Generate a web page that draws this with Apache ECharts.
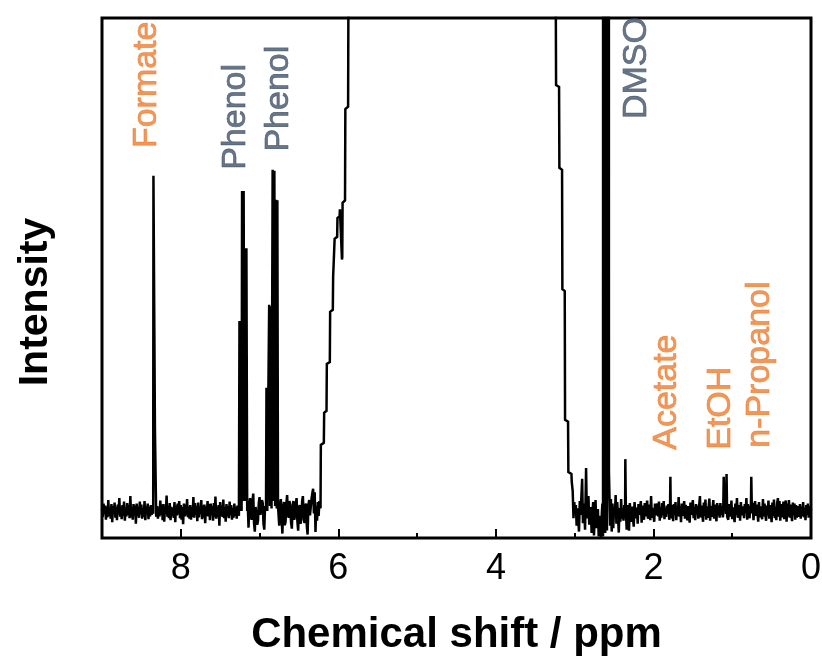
<!DOCTYPE html>
<html>
<head>
<meta charset="utf-8">
<script src="https://cdn.jsdelivr.net/npm/echarts@6/dist/echarts.min.js"></script>
<style>
  html, body { margin: 0; padding: 0; background: #fff; }
  #chart { width: 822px; height: 656px; }
</style>
</head>
<body>
<div id="chart"></div>
<script>
// 1H NMR spectrum, [chemical shift (ppm), intensity (a.u.)], ordered from high to low ppm.

// Baseline and aromatic region: formate singlet and the two phenol multiplets
const regionAromatic = [
  [9.00,0.4],[8.99,-1.2],[8.98,1.5],[8.97,-0.6],[8.96,1.1],[8.95,-1.8],[8.94,0.9],[8.93,-1.3],[8.92,2.2],[8.91,-1.0],
  [8.90,0.6],[8.89,-1.6],[8.88,1.4],[8.87,-2.3],[8.86,1.0],[8.85,-0.5],[8.84,1.7],[8.83,-1.4],[8.82,0.8],[8.81,-1.9],
  [8.80,1.3],[8.79,-0.7],[8.78,2.6],[8.77,-1.2],[8.76,0.9],[8.75,-1.7],[8.74,1.2],[8.73,-1.0],[8.72,1.9],[8.71,-2.0],
  [8.70,0.7],[8.69,-1.1],[8.68,1.6],[8.67,-0.8],[8.66,1.2],[8.65,-1.5],[8.64,3.0],[8.63,-1.3],[8.62,0.5],[8.61,-1.8],
  [8.60,1.4],[8.59,-0.9],[8.58,1.1],[8.57,-2.6],[8.56,1.5],[8.55,-1.0],[8.54,0.8],[8.53,-1.4],[8.52,1.9],[8.51,-0.7],
  [8.50,1.3],[8.49,-1.6],[8.48,0.6],[8.47,-1.2],[8.46,2.0],[8.45,-1.9],[8.44,1.0],[8.43,-0.6],[8.42,1.5],[8.41,-1.7],
  [8.40,0.9],[8.39,-1.1],[8.38,1.2],[8.37,-0.8],[8.36,1.2],
  [8.350,-0.6],[8.347,68.0],[8.328,16.6],[8.312,-1.2],
  [8.30,1.0],[8.29,-1.6],[8.28,0.7],[8.27,-1.1],[8.26,2.1],[8.25,-0.8],[8.24,1.3],[8.23,-1.9],[8.22,1.4],[8.21,-2.2],
  [8.20,0.9],[8.19,-0.6],[8.18,3.1],[8.17,-1.2],[8.16,1.0],[8.15,-1.5],[8.14,1.6],[8.13,-1.9],[8.12,0.8],[8.11,-1.0],
  [8.10,0.6],[8.09,-1.4],[8.08,1.8],[8.07,-2.3],[8.06,1.1],[8.05,-0.9],[8.04,1.5],[8.03,-0.7],[8.02,2.0],[8.01,-1.5],
  [8.00,1.2],[7.99,-1.8],[7.98,0.8],[7.97,-2.7],[7.96,1.5],[7.95,-1.1],[7.94,1.3],[7.93,-0.9],[7.92,2.4],[7.91,-1.3],
  [7.90,0.9],[7.89,-1.6],[7.88,1.2],[7.87,-1.8],[7.86,0.7],[7.85,-1.2],[7.84,2.8],[7.83,-1.4],[7.82,1.6],[7.81,-0.8],
  [7.80,1.0],[7.79,-2.1],[7.78,1.7],[7.77,-1.3],[7.76,0.6],[7.75,-0.6],[7.74,2.2],[7.73,-1.7],[7.72,1.1],[7.71,-1.4],
  [7.70,1.3],[7.69,-2.5],[7.68,0.9],[7.67,-1.0],[7.66,2.0],[7.65,-1.1],[7.64,1.4],[7.63,-1.9],[7.62,1.5],[7.61,-0.8],
  [7.60,1.0],[7.59,-2.0],[7.58,1.6],[7.57,-1.3],[7.56,2.9],[7.55,-1.6],[7.54,0.8],[7.53,-1.2],[7.52,1.2],[7.51,-3.0],
  [7.50,1.8],[7.49,-1.0],[7.48,1.1],[7.47,-1.2],[7.46,2.3],[7.45,-1.5],[7.44,0.7],[7.43,-2.2],[7.42,1.4],[7.41,-1.1],
  [7.40,1.0],[7.39,-1.5],[7.38,1.9],[7.37,-0.9],[7.36,1.2],[7.35,-1.8],[7.34,0.6],[7.33,-1.4],[7.32,1.5],[7.31,-1.0],
  [7.30,0.8],[7.29,-1.6],[7.28,1.1],[7.27,0.5],
  [7.262,-1.0],[7.255,38.5],[7.245,0.0],[7.238,38.5],[7.228,0.0],[7.222,64.9],[7.212,2.0],[7.202,64.9],
  [7.192,2.0],[7.185,53.3],[7.175,2.0],[7.167,53.3],[7.157,0.0],[7.150,1.5],
  [7.14,-3.4],[7.13,1.5],[7.12,2.6],[7.11,-1.2],[7.10,-1.8],[7.09,2.0],[7.08,3.5],[7.07,-2.5],[7.06,-4.2],[7.05,0.8],
  [7.04,1.2],[7.03,-2.8],[7.02,-2.0],[7.01,1.6],[7.00,2.8],[6.99,-0.8],[6.98,-1.1],[6.97,2.2],[6.96,1.6],[6.95,-2.6],
  [6.94,-3.8],[6.93,1.0],
  [6.918,0.5],[6.912,25.0],[6.902,0.0],[6.878,41.8],[6.868,1.0],[6.858,41.5],[6.848,0.5],[6.834,69.2],
  [6.824,2.0],[6.812,69.0],[6.802,1.0],[6.792,63.1],[6.782,0.5],[6.774,63.0],[6.766,1.0],
  [6.75,-3.0],[6.74,1.1],[6.73,2.4],[6.72,-1.6],[6.71,-4.6],[6.70,0.7],[6.69,1.8],[6.68,-2.9],[6.67,-2.2],[6.66,1.5],
  [6.65,3.2],[6.64,-0.8],[6.63,-1.4],[6.62,2.0],[6.61,0.8],[6.60,-2.4],[6.59,-3.6],[6.58,1.2],[6.57,2.0],[6.56,-1.8],
  [6.55,-1.0],[6.54,1.4],[6.53,2.6],[6.52,-2.1],[6.51,-4.0],[6.50,0.6],[6.49,1.2],[6.48,-2.6],[6.47,-1.8],[6.46,1.9],
  [6.45,3.0],[6.44,-1.0],[6.43,-2.5],[6.42,0.9],[6.41,1.5],[6.40,-3.1],[6.39,-4.8],[6.38,1.1],[6.37,2.2],[6.36,-0.9],
  [6.35,-1.2],[6.34,2.5],[6.33,3.6],[6.32,4.5],[6.31,-0.5],[6.30,3.8],[6.29,-4.3],[6.28,1.0],[6.27,-2.0],[6.26,1.8],
  [6.25,-1.0],[6.24,2.0],[6.232,1.5]
];

// Residual water signal (its apex runs far off scale)
const waterSignal = [
  [6.226,0.5],[6.222,13.4],[6.184,13.8],[6.180,19.9],[6.150,20.3],[6.146,29.8],[6.108,30.2],
  [6.104,40.4],[6.070,40.8],[6.066,47.5],[6.051,47.9],[6.047,55.2],[6.015,55.6],[6.011,59.4],
  [5.984,59.8],[5.980,61.2],[5.960,61.5],[5.954,51.0],[5.950,51.5],[5.946,62.5],[5.915,63.0],
  [5.911,81.5],[5.876,82.0],[5.872,104.0],[5.850,140.0],[5.20,600.0],[4.70,1500.0],[4.20,700.0],
  [3.40,160.0],[3.240,104.0],[3.236,86.4],[3.198,86.0],[3.194,69.6],[3.160,69.2],[3.156,45.0],
  [3.126,44.6],[3.122,18.5],[3.084,18.1],[3.080,7.9],[3.041,7.5],[3.037,5.9],[3.025,4.0]
];

// Foot of the water signal and the DMSO solvent signal (off scale)
const regionDmso = [
  [3.015,-1.5],[3.005,1.8],[2.995,-0.6],[2.985,1.2],[2.975,-3.0],[2.965,0.5],[2.955,-1.8],[2.945,-4.2],
  [2.935,2.0],[2.925,-0.8],[2.905,6.5],[2.895,-2.5],[2.885,1.5],[2.875,-1.0],[2.868,-3.8],[2.855,8.7],
  [2.845,-1.5],[2.835,0.6],[2.825,3.0],[2.815,-2.8],[2.805,-0.4],[2.795,0.8],[2.785,-4.5],[2.775,-0.5],
  [2.765,1.8],[2.755,-5.0],[2.745,-1.2],[2.735,2.2],[2.725,-3.5],[2.715,-0.8],[2.705,0.4],[2.695,-5.2],
  [2.685,-1.0],[2.675,-3.0],[2.665,-5.3],[2.655,-0.5],[2.648,1.5],[2.640,-5.2],
  [2.633,-5.0],[2.625,3000],[2.612,-4.5],[2.600,3000],[2.590,-4.0],[2.580,3000],[2.565,8.0]
];

// Aliphatic region: acetate, ethanol and n-propanol signals
const regionAliphatic = [
  [2.55,-3.0],[2.54,2.4],[2.53,-4.2],[2.52,1.5],[2.51,-3.5],[2.50,0.8],[2.49,-1.2],[2.48,3.2],[2.47,-2.6],[2.46,1.8],
  [2.45,-1.0],[2.44,-4.4],[2.43,0.6],[2.42,-2.2],[2.41,2.4],[2.40,-1.6],[2.39,0.5],[2.38,-2.0],[2.37,1.2],[2.36,-0.8],
  [2.357,10.5],
  [2.35,0.2],[2.34,-3.8],[2.33,1.2],[2.32,-1.5],[2.31,-4.0],[2.30,1.6],[2.29,-0.9],[2.28,-2.2],[2.27,0.9],[2.26,-1.4],
  [2.25,-3.2],[2.24,1.8],[2.23,-0.6],[2.22,-1.5],[2.21,0.7],[2.20,-2.6],[2.19,1.4],[2.18,-0.8],[2.17,-1.2],[2.16,2.0],
  [2.15,-2.4],[2.14,1.1],[2.13,-0.7],[2.12,-1.8],[2.11,1.6],[2.10,-1.1],[2.09,-0.8],[2.08,2.1],[2.07,-1.6],[2.06,0.4],
  [2.05,1.3],[2.04,-1.9],[2.03,3.0],[2.02,-1.4],[2.01,0.6],[2.00,1.0],[1.99,-2.2],[1.98,1.5],[1.97,-0.9],[1.96,-1.1],
  [1.95,1.5],[1.94,-1.1],[1.93,1.9],[1.92,-2.0],[1.91,0.8],[1.90,-1.4],[1.89,1.6],[1.88,-0.9],[1.87,2.0],[1.86,-1.7],
  [1.85,0.6],[1.84,-1.2],[1.83,1.1],[1.82,-0.5],[1.81,1.4],[1.80,-1.8],[1.79,-0.3],[1.785,6.9],[1.78,-0.4],[1.77,-1.5],
  [1.76,1.2],
  [1.75,-2.1],[1.74,1.4],[1.73,-0.8],[1.72,1.8],[1.71,-1.9],[1.70,0.9],[1.69,-1.0],[1.68,2.8],[1.67,-1.2],[1.66,0.9],
  [1.65,-2.3],[1.64,1.5],[1.63,-1.0],[1.62,0.7],[1.61,2.0],[1.60,-1.6],[1.59,1.2],[1.58,-0.6],[1.57,-1.9],[1.56,1.0],
  [1.55,1.2],[1.54,-2.4],[1.53,1.7],[1.52,-0.8],[1.51,0.5],[1.50,2.2],[1.49,-1.5],[1.48,0.8],[1.47,-1.9],[1.46,1.4],
  [1.45,-0.7],[1.44,1.1],[1.43,-1.6],[1.42,1.0],[1.41,3.0],[1.40,-1.3],[1.39,1.1],[1.38,-0.8],[1.37,-2.2],[1.36,1.7],
  [1.35,-1.0],[1.34,2.3],[1.33,-1.8],[1.32,0.9],[1.31,-1.4],[1.30,0.6],[1.29,2.5],[1.28,-2.0],[1.27,1.0],[1.26,-1.2],
  [1.25,0.4],[1.24,2.2],[1.23,-1.6],[1.22,1.3],[1.21,-0.7],[1.20,-2.1],[1.19,1.6],[1.18,-0.9],[1.17,1.1],[1.16,-1.4],
  [1.15,1.6],[1.14,-0.8],[1.13,1.0],[1.12,-1.3],[1.115,-0.8],[1.108,6.9],[1.098,0.2],[1.090,2.2],[1.080,-0.6],[1.072,7.5],
  [1.064,-1.2],[1.05,-1.8],[1.04,1.4],[1.03,-0.6],[1.02,-1.1],[1.01,2.1],[1.00,-1.7],[0.99,0.7],[0.98,1.0],[0.97,-2.3],
  [0.96,1.5],
  [0.95,-0.8],[0.94,2.6],[0.93,-1.4],[0.92,0.6],[0.91,1.2],[0.90,-2.0],[0.89,1.8],[0.88,-0.9],[0.87,-1.2],[0.86,0.9],
  [0.85,-1.5],[0.84,1.4],[0.83,-0.4],[0.82,2.6],[0.81,-1.8],[0.80,1.4],[0.79,-0.6],[0.78,-1.5],[0.77,1.0],[0.763,0.4],
  [0.758,6.9],[0.75,-0.5],
  [0.74,1.6],[0.73,-1.9],[0.72,0.7],[0.71,2.0],[0.70,-1.0],[0.69,1.3],[0.68,-0.4],[0.67,-2.2],[0.66,1.8],[0.65,-1.3],
  [0.64,0.9],[0.63,-0.7],[0.62,-1.7],[0.61,2.4],[0.60,-1.1],[0.59,1.5],[0.58,-0.6],[0.57,-2.0],[0.56,1.1],[0.55,-0.9],
  [0.54,2.1],[0.53,-1.6],[0.52,1.2],[0.51,-0.5],[0.50,-2.3],[0.49,1.7],[0.48,-1.0],[0.47,2.3],[0.46,-1.5],[0.45,0.8],
  [0.44,-1.9],[0.43,1.6],[0.42,2.6],[0.41,-1.2],[0.40,2.0],[0.39,-2.0],[0.38,1.4],[0.37,-0.7],[0.36,-1.3],[0.35,1.9],
  [0.34,-1.7],[0.33,1.0],[0.32,2.1],[0.31,-2.2],[0.30,1.5],[0.29,-1.1],[0.28,2.2],[0.27,-1.4],[0.26,1.3],[0.25,-0.6],
  [0.24,-2.1],[0.23,1.7],[0.22,-0.9],[0.21,1.5],[0.20,-1.8],[0.19,1.2],[0.18,-1.4],[0.17,1.0],[0.16,-0.5],[0.15,-1.2],
  [0.14,1.4],[0.13,-1.6],[0.12,0.9],[0.11,-1.0],[0.10,1.8],[0.09,-1.3],[0.08,0.6],[0.07,-1.9],[0.06,1.2],[0.05,-0.8],
  [0.04,1.5],[0.03,-1.4],[0.02,1.0],[0.01,-1.2],[0.00,0.4]
];

// Signal assignments
const annotationNames = ['Formate', 'Phenol', 'Phenol', 'DMSO', 'Acetate', 'EtOH', 'n-Propanol'];
const annotationPpm   = [8.435, 7.30, 6.755, 2.214, 1.831, 1.145, 0.647];
const annotationGroup = ['product', 'reference', 'reference', 'reference', 'product', 'product', 'product'];

// Axis tick labels (major ticks every 2 ppm)
const shiftTicks = [8, 6, 4, 2, 0];

// ---- layout / style ----
const labelBase = [73.6, 69.2, 72.9, 79.5, 12.4, 12.4, 12.8];   // intensity where each label starts
const groupColor = { product: '#ED7D31', reference: '#44546A' };
const FONT = '"Liberation Sans", Arial, sans-serif';

const spectrum = regionAromatic.concat(waterSignal, regionDmso, regionAliphatic);

const labelData = annotationNames.map((name, i) => {
  const c = groupColor[annotationGroup[i]];
  return {
    name: name,
    value: [annotationPpm[i], labelBase[i]],
    label: { color: c, textBorderColor: c, textBorderWidth: 0.7 }
  };
});

const chart = echarts.init(document.getElementById('chart'), null, { renderer: 'canvas' });

chart.setOption({
  animation: false,
  backgroundColor: '#ffffff',
  grid: {
    left: 102, right: 11, top: 18, bottom: 118,
    outerBoundsMode: 'none', containLabel: false,
    show: true, borderColor: '#000', borderWidth: 3, backgroundColor: 'transparent'
  },
  xAxis: [
    {
      type: 'value', min: 0, max: 9, interval: 2, inverse: true, position: 'bottom',
      axisLine: { show: false, onZero: false },
      axisTick: { show: true, inside: true, length: 9, lineStyle: { color: '#000', width: 2 } },
      axisLabel: {
        margin: 13, fontSize: 36, color: '#000', fontFamily: FONT,
        formatter: v => (shiftTicks.indexOf(v) >= 0 ? String(v) : '')
      },
      splitLine: { show: false },
      name: 'Chemical shift / ppm', nameLocation: 'middle', nameGap: 76,
      nameTextStyle: { fontSize: 42, fontWeight: 'bold', color: '#000', fontFamily: FONT }
    },
    {
      type: 'value', min: 0, max: 9, interval: 1, inverse: true, position: 'bottom',
      axisLine: { show: false, onZero: false },
      axisTick: { show: true, inside: true, length: 5, lineStyle: { color: '#000', width: 2 } },
      axisLabel: { show: false },
      splitLine: { show: false }
    }
  ],
  yAxis: {
    type: 'value', min: -5.5, max: 100,
    axisLine: { show: false }, axisTick: { show: false }, axisLabel: { show: false },
    splitLine: { show: false }
  },
  graphic: [
    {
      type: 'text', x: 36, y: 302, rotation: Math.PI / 2,
      style: {
        text: 'Intensity', align: 'center', verticalAlign: 'middle',
        font: 'bold 41px "Liberation Sans", Arial, sans-serif', fill: '#000'
      }
    }
  ],
  series: [
    {
      type: 'line', xAxisIndex: 0, data: spectrum,
      showSymbol: false, symbol: 'none', clip: true, silent: true, z: 3,
      lineStyle: { color: '#000', width: 2.5, join: 'miter', miterLimit: 4 }
    },
    {
      type: 'scatter', xAxisIndex: 0, data: labelData,
      symbolSize: 1, itemStyle: { color: 'transparent' }, silent: true, z: 4,
      label: {
        show: true, position: 'inside', rotate: 90, align: 'left', verticalAlign: 'middle',
        fontSize: 34, fontFamily: FONT, formatter: p => p.data.name
      }
    }
  ]
});
</script>
</body>
</html>
